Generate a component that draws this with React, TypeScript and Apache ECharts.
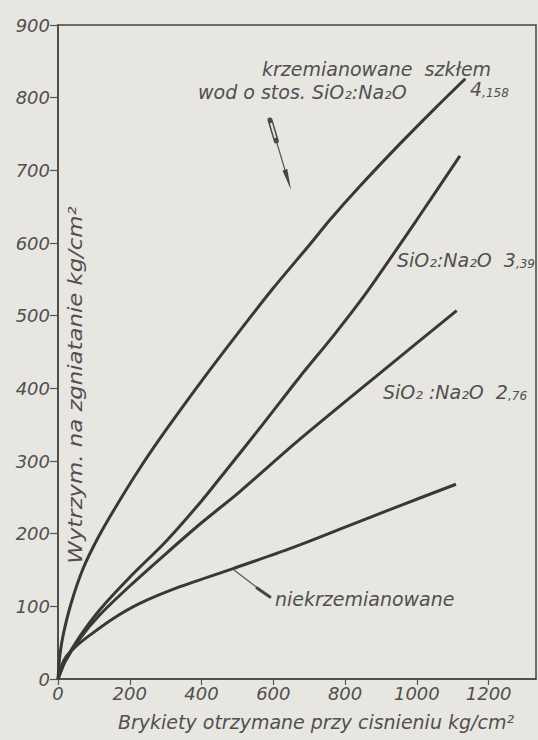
import React, { useEffect, useRef } from "react";
import * as echarts from "echarts";

// x: pressure of briquetting (kg/cm²), y: crushing strength (kg/cm²)
const curve4158: number[][] = [
  [0, 0], [5, 32], [15, 62], [37, 105], [70, 152], [110, 193], [160, 236],
  [228, 290], [300, 342], [400, 410], [500, 475], [600, 538], [700, 597],
  [758, 632], [841, 678], [950, 735], [1050, 785], [1135, 826],
];
const curve339: number[][] = [
  [0, 0], [20, 25], [60, 58], [116, 95], [200, 140], [302, 190], [400, 245],
  [470, 288], [570, 350], [674, 416], [770, 474], [860, 532], [1000, 632], [1120, 720],
];
const curve276: number[][] = [
  [0, 0], [20, 24], [60, 55], [116, 88], [200, 128], [302, 173], [400, 215],
  [507, 258], [674, 330], [900, 422], [1111, 507],
];
const curveNone: number[][] = [
  [0, 0], [10, 18], [23, 31], [50, 45], [88, 60], [150, 82], [228, 104],
  [340, 127], [488, 152], [650, 180], [800, 209], [950, 238], [1109, 268],
];
const seriesNames = ["4,158", "3,39", "2,76", "niekrzemianowane"];

const xTitle = "Brykiety otrzymane przy cisnieniu kg/cm²";
const yTitle = "Wytrzym. na zgniatanie kg/cm²";

const FONT = "DejaVu Sans";
const TXT = "#505050";
const INK = "#383838";
const BG = "#e8e6e0";

export default function App() {
  const ref = useRef<HTMLDivElement>(null);
  useEffect(() => {
    document.body.style.margin = "0";
    const chart = echarts.init(ref.current!, undefined, { renderer: "svg" });
    const txt = (extra: any) => ({
      fill: TXT,
      fontFamily: FONT,
      fontStyle: "italic",
      fontSize: 19,
      ...extra,
    });
    const lineStyle = { width: 3, color: INK };
    const mk = (name: string, data: number[][]) => ({
      name,
      type: "line",
      data,
      smooth: 0.25,
      showSymbol: false,
      symbol: "none",
      lineStyle,
      itemStyle: { color: INK },
    });
    const axisLabel = {
      color: TXT,
      fontFamily: FONT,
      fontStyle: "italic",
      fontSize: 18,
    };
    const rich = {
      b: { fill: TXT, fontFamily: FONT, fontStyle: "italic", fontSize: 19, verticalAlign: "bottom" },
      s: { fill: TXT, fontFamily: FONT, fontStyle: "italic", fontSize: 12, verticalAlign: "bottom" },
    };
    chart.setOption({
      animation: false,
      backgroundColor: BG,
      grid: {
        left: 58,
        right: 2,
        top: 25,
        bottom: 61,
        show: true,
        borderColor: "#444",
        borderWidth: 1.5,
        outerBoundsMode: "none",
      },
      xAxis: {
        type: "value",
        min: 0,
        max: 1332,
        interval: 200,
        axisLine: { show: true, lineStyle: { color: "#444", width: 1.5 } },
        axisTick: { show: true, length: 6, lineStyle: { color: "#555", width: 1.2 } },
        splitLine: { show: false },
        axisLabel: {
          ...axisLabel,
          margin: 5,
          showMaxLabel: false,
          formatter: (v: number) => (v % 200 === 0 ? String(v) : ""),
        },
      },
      yAxis: {
        type: "value",
        min: 0,
        max: 900,
        interval: 100,
        axisLine: { show: true, lineStyle: { color: "#444", width: 1.5 } },
        axisTick: { show: true, length: 8, lineStyle: { color: "#555", width: 1.2 } },
        splitLine: { show: false },
        axisLabel: { ...axisLabel, margin: 8 },
      },
      series: [
        mk(seriesNames[0], curve4158),
        mk(seriesNames[1], curve339),
        mk(seriesNames[2], curve276),
        mk(seriesNames[3], curveNone),
      ],
      graphic: [
        {
          type: "text",
          x: 316,
          y: 722,
          style: txt({ text: xTitle, align: "center", verticalAlign: "middle" }),
        },
        {
          type: "text",
          x: 76,
          y: 385,
          rotation: Math.PI / 2,
          scaleX: 1.2,
          style: txt({ text: yTitle, align: "center", verticalAlign: "middle" }),
        },
        {
          type: "text",
          x: 262,
          y: 69,
          style: txt({ text: "krzemianowane  szkłem", verticalAlign: "middle" }),
        },
        {
          type: "text",
          x: 198,
          y: 92,
          style: txt({ text: "wod o stos. SiO₂:Na₂O", verticalAlign: "middle" }),
        },
        {
          type: "text",
          x: 470,
          y: 89,
          style: { text: "{b|4}{s|,158}", verticalAlign: "middle", rich },
        },
        {
          type: "text",
          x: 397,
          y: 260,
          style: { text: "{b|SiO₂:Na₂O  3}{s|,39}", verticalAlign: "middle", rich },
        },
        {
          type: "text",
          x: 383,
          y: 392,
          style: { text: "{b|SiO₂ :Na₂O  2}{s|,76}", verticalAlign: "middle", rich },
        },
        {
          type: "text",
          x: 275,
          y: 599,
          style: txt({ text: "niekrzemianowane", verticalAlign: "middle" }),
        },
        // arrow near the upper legend
        {
          type: "line",
          shape: { x1: 270, y1: 120, x2: 276.3, y2: 141 },
          style: { stroke: "#4a4a4a", lineWidth: 5, lineCap: "round" },
        },
        {
          type: "line",
          shape: { x1: 271, y1: 123, x2: 275.3, y2: 138 },
          style: { stroke: BG, lineWidth: 2 },
        },
        {
          type: "line",
          shape: { x1: 276.3, y1: 141, x2: 285, y2: 170 },
          style: { stroke: "#555", lineWidth: 1.2 },
        },
        {
          type: "polygon",
          shape: { points: [[282.5, 170.5], [287.3, 169.1], [291, 190]] },
          style: { fill: "#444" },
        },
        // leader to the "niekrzemianowane" curve
        {
          type: "line",
          shape: { x1: 234, y1: 570, x2: 259, y2: 589 },
          style: { stroke: "#555", lineWidth: 1.2 },
        },
        {
          type: "line",
          shape: { x1: 257, y1: 588, x2: 270, y2: 597 },
          style: { stroke: "#444", lineWidth: 3, lineCap: "round" },
        },
      ],
    });
    return () => chart.dispose();
  }, []);
  return <div ref={ref} style={{ width: 538, height: 740, background: BG }} />;
}
